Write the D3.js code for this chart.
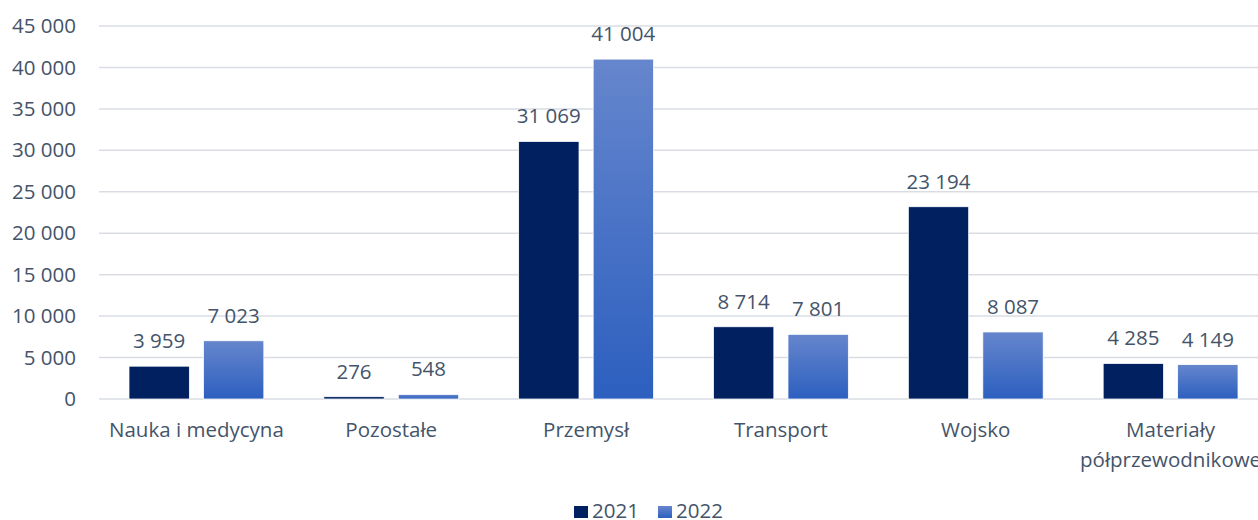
<!DOCTYPE html>
<html>
<head>
<meta charset="utf-8">
<script src="https://cdn.jsdelivr.net/npm/d3@7"></script>
<style>
  body { margin: 0; background: #fff; }
  svg { display: block; }
</style>
</head>
<body>
<div id="viz"></div>
<script>
// chart values
const categories = ["Nauka i medycyna", "Pozostałe", "Przemysł", "Transport", "Wojsko", "Materiały\npółprzewodnikowe"];
const years = ["2021", "2022"];
const values2021 = [3959, 276, 31069, 8714, 23194, 4285];
const values2022 = [7023, 548, 41004, 7801, 8087, 4149];
const yTicks = [0, 5000, 10000, 15000, 20000, 25000, 30000, 35000, 40000, 45000];

const W = 1258, H = 520;
const margin = {left: 99, top: 26, bottom: 399, right: 1268};
const textColor = "#44546A";
const font = "'Open Sans', sans-serif";
const fs = "20.5px";

const pl = d3.formatLocale({decimal: ",", thousands: "\u00a0", grouping: [3], currency: ["", ""]});
const fmt = pl.format(",d");

const rows = categories.map((c, i) => ({cat: c, vals: [values2021[i], values2022[i]]}));

const svg = d3.select("#viz").append("svg")
    .attr("width", W)
    .attr("height", H)
    .style("font-family", font);

const defs = svg.append("defs");
const grad = defs.append("linearGradient")
    .attr("id", "blueGrad")
    .attr("x1", 0).attr("y1", 0).attr("x2", 0).attr("y2", 1);
grad.append("stop").attr("offset", "0%").attr("stop-color", "#6686cd");
grad.append("stop").attr("offset", "100%").attr("stop-color", "#2c5fbf");

const x0 = d3.scaleBand()
    .domain(categories)
    .range([margin.left, margin.right]);

const x1 = d3.scaleBand()
    .domain(years)
    .range([30, x0.step() - 30])
    .paddingInner(0.19);

const y = d3.scaleLinear()
    .domain([0, 45000])
    .range([margin.bottom, margin.top]);

const fills = ["#002060", "url(#blueGrad)"];

// gridlines
svg.append("g")
  .selectAll("line")
  .data(yTicks)
  .join("line")
    .attr("x1", margin.left)
    .attr("x2", W)
    .attr("y1", d => y(d))
    .attr("y2", d => y(d))
    .attr("stroke", "#d9dde3")
    .attr("stroke-width", 1.5);

// y axis
const yAxis = svg.append("g")
    .attr("transform", `translate(${margin.left},0)`)
    .call(d3.axisLeft(y).tickValues(yTicks).tickSize(0).tickPadding(23).tickFormat(fmt));
yAxis.select(".domain").remove();
yAxis.selectAll("text")
    .attr("fill", textColor)
    .attr("font-size", fs)
    .attr("font-family", font);

// bars
const group = svg.append("g")
  .selectAll("g")
  .data(rows)
  .join("g")
    .attr("transform", d => `translate(${x0(d.cat)},0)`);

group.selectAll("rect")
  .data(d => d.vals.map((v, i) => ({year: years[i], v: v, i: i})))
  .join("rect")
    .attr("x", d => x1(d.year))
    .attr("width", x1.bandwidth())
    .attr("y", d => y(d.v))
    .attr("height", d => y(0) - y(d.v))
    .attr("fill", d => fills[d.i])
    .attr("stroke", "#ffffff")
    .attr("stroke-width", 0.75);

// data labels
group.selectAll("text")
  .data(d => d.vals.map((v, i) => ({year: years[i], v: v})))
  .join("text")
    .attr("x", d => x1(d.year) + x1.bandwidth() / 2)
    .attr("y", d => y(d.v) - 18)
    .attr("text-anchor", "middle")
    .attr("font-size", fs)
    .attr("fill", textColor)
    .text(d => fmt(d.v));

// category labels
const catLabels = svg.append("g")
  .selectAll("text")
  .data(categories)
  .join("text")
    .attr("x", d => x0(d) + x0.bandwidth() / 2)
    .attr("y", 437)
    .attr("text-anchor", "middle")
    .attr("font-size", fs)
    .attr("fill", textColor);

catLabels.selectAll("tspan")
  .data(d => d.split("\n"))
  .join("tspan")
    .attr("x", function() { return this.parentNode.getAttribute("x"); })
    .attr("dy", (d, i) => i === 0 ? 0 : 30)
    .text(d => d);

// legend
const legendX = d3.scaleOrdinal().domain(years).range([574, 658]);
const legend = svg.append("g")
  .selectAll("g")
  .data(years)
  .join("g")
    .attr("transform", d => `translate(${legendX(d)},506)`);

legend.append("rect")
    .attr("width", 14)
    .attr("height", 12)
    .attr("fill", (d, i) => fills[i]);

legend.append("text")
    .attr("x", 18)
    .attr("y", 12)
    .attr("font-size", fs)
    .attr("fill", textColor)
    .text(d => d);
</script>
</body>
</html>
